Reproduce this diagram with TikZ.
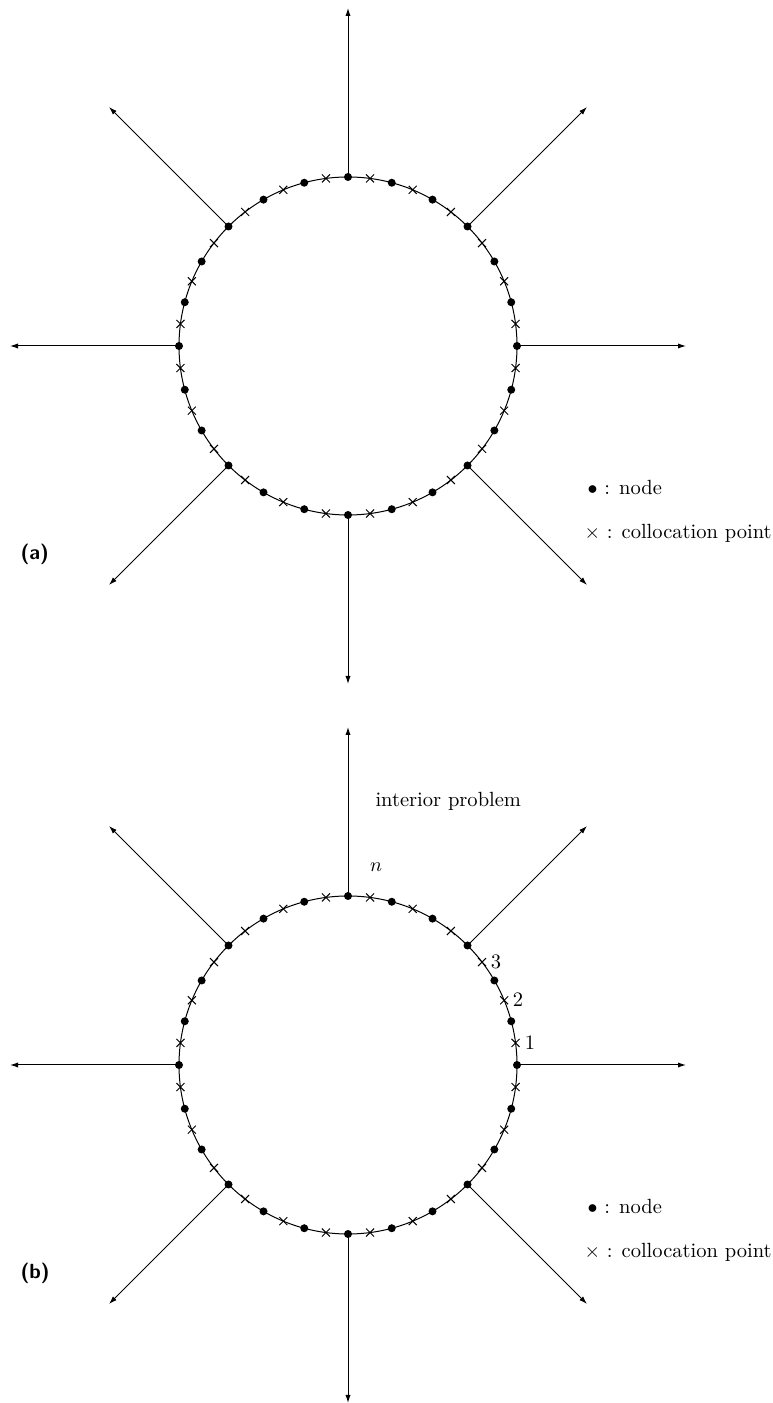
\documentclass[tikz,border=0pt]{standalone}
\usepackage{amsmath,amssymb}
\usetikzlibrary{arrows.meta}
\tikzset{
  dot/.style={circle, fill, inner sep=0pt, minimum size=4bp},
  cross/.style={line width=0.5bp},
  flow/.style={-{Latex[length=4bp, width=2.6bp]}, line width=0.5bp},
  lbl/.style={font=\fontsize{10.3pt}{12pt}\selectfont, inner sep=0pt},
  tag/.style={font=\sffamily\bfseries\fontsize{10.3pt}{12pt}\selectfont, inner sep=0pt},
}

\begin{document}
\begin{tikzpicture}[x=0.5bp, y=0.5bp, line width=0.5bp]
  \useasboundingbox (0,0) rectangle (772,1403);
  % (a) boundary with nodes and collocation points
  \begin{scope}[shift={(348,1057)}]
    \draw (0,0) circle[radius=169];
    \foreach \k in {0,...,23}
      \draw[cross] (\k*15+7.5:169) ++(-4,-4) -- ++(8,8) ++(-8,0) -- ++(8,-8);
    \foreach \k in {0,...,23} \node[dot] (a\k) at (\k*15:169) {};
    \foreach \k in {0,3,...,21} {
      \coordinate (ta\k) at (\k*15:338);
      \draw[flow] (a\k.center) -- (ta\k);
    }
  \end{scope}
  \node[lbl, anchor=base west] (keya1) at (587,908) {$\bullet$ : node};
  \node[lbl, anchor=base west] (keya2) at (584,864) {$\times$ : collocation point};
  \node[tag, anchor=base west] (taga) at (20,843) {(a)};
  % (b) same, numbered elements
  \begin{scope}[shift={(348,338)}]
    \draw (0,0) circle[radius=169];
    \foreach \k in {0,...,23}
      \draw[cross] (\k*15+7.5:169) ++(-4,-4) -- ++(8,8) ++(-8,0) -- ++(8,-8);
    \foreach \k in {0,...,23} \node[dot] (b\k) at (\k*15:169) {};
    \foreach \k in {0,3,...,21} {
      \coordinate (tb\k) at (\k*15:338);
      \draw[flow] (b\k.center) -- (tb\k);
    }
  \end{scope}
  \node[lbl, anchor=base west] (intp) at (375,596) {interior problem};
  \node[lbl] (elemn) at (376,536) {$n$};
  \node[lbl] (elem1) at (530,360) {1};
  \node[lbl] (elem2) at (518,403) {2};
  \node[lbl] (elem3) at (496,441) {3};
  \node[lbl, anchor=base west] (keyb1) at (587,189) {$\bullet$ : node};
  \node[lbl, anchor=base west] (keyb2) at (584,145) {$\times$ : collocation point};
  \node[tag, anchor=base west] (tagb) at (20,124) {(b)};
\end{tikzpicture}
\end{document}
